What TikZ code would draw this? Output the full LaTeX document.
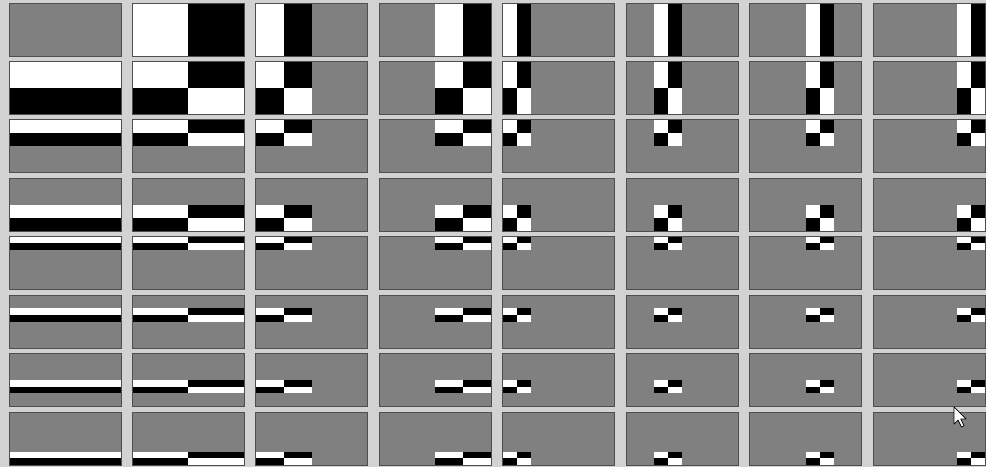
\documentclass[tikz,border=0pt]{standalone}
\usepackage{tikz}
\definecolor{bggray}{HTML}{D2D2D2}
\definecolor{tilegray}{HTML}{808080}
\definecolor{edgegray}{HTML}{4E4E4E}
\tikzset{
  tilebox/.style={draw=edgegray, line width=1pt},
  cursorshape/.style={fill=white, draw=black, line width=0.7pt, line join=round}
}
\begin{document}
\begin{tikzpicture}[x=1pt,y=-1pt]
\fill[bggray] (0,0) rectangle (986,467);
\useasboundingbox (0,0) rectangle (986,467);
\foreach \i in {0,...,7}{
 \foreach \j in {0,...,7}{
  \pgfmathsetmacro\X{9+123.43*\j}
  \pgfmathsetmacro\Y{3+58.43*\i}
  \fill[tilegray] (\X,\Y) rectangle ++(112,53);
  \pgfmathsetmacro\aj{\j==3 ? 4 : (\j>3 ? 2*(\j-4) : 0)}
  \pgfmathsetmacro\hj{\j==0 ? 8 : (\j==1 ? 4 : (\j<4 ? 2 : 1))}
  \pgfmathsetmacro\ai{\i==3 ? 4 : (\i>3 ? 2*(\i-4) : 0)}
  \pgfmathsetmacro\hi{\i==0 ? 8 : (\i==1 ? 4 : (\i<4 ? 2 : 1))}
  \pgfmathtruncatemacro\nonconst{(\i>0) || (\j>0)}
  \ifnum\nonconst=1
   \foreach \s in {0,1}{
    \foreach \t in {0,1}{
     \pgfmathtruncatemacro\skipit{((\j==0) && (\s==1)) || ((\i==0) && (\t==1))}
     \ifnum\skipit=0
      \pgfmathtruncatemacro\parity{mod(\s+\t,2)}
      \ifnum\parity=0 \def\cellcol{white}\else\def\cellcol{black}\fi
      \fill[\cellcol] (\X+14*\aj+14*\s*\hj, \Y+6.625*\ai+6.625*\t*\hi) rectangle ++(14*\hj, 6.625*\hi);
     \fi
    }
   }
  \fi
  \draw[tilebox] (\X,\Y) rectangle ++(112,53);
 }
}
% mouse pointer
\coordinate (tip) at (954,407);
\draw[cursorshape] (tip) -- ++(0,17) -- ++(4,-4) -- ++(3.5,7) -- ++(2.5,-1.2) -- ++(-3.3,-6.8) -- ++(5.5,0) -- cycle;
\end{tikzpicture}
\end{document}
